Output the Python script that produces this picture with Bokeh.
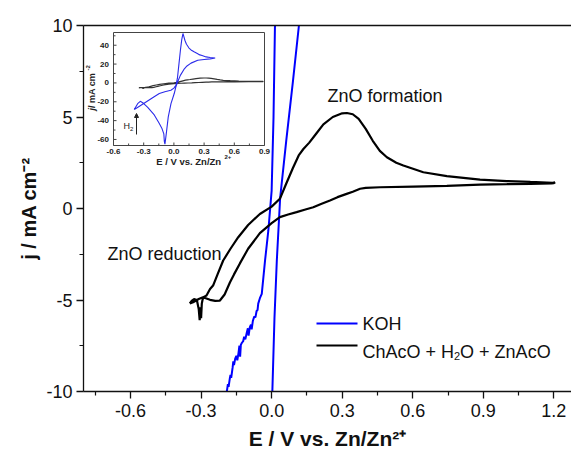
import numpy as np
from bokeh.plotting import figure
from bokeh.models import Range1d, LinearAxis, Label, Arrow, NormalHead, FixedTicker, ColumnDataSource
from bokeh.core.properties import value
from bokeh.embed import file_html
from bokeh.resources import INLINE

# ---------------- data ----------------
# KOH (main panel, zoomed section of the CV)
koh_x = [-0.196, -0.190, -0.186, -0.183, -0.178, -0.175, -0.172, -0.166, -0.163, -0.160,
         -0.155, -0.150, -0.146, -0.141, -0.137, -0.134, -0.131, -0.127, -0.121, -0.117,
         -0.112, -0.106, -0.101, -0.098, -0.093, -0.088, -0.085, -0.080, -0.074, -0.069,
         -0.064, -0.060, -0.057, -0.050, -0.042, -0.028, -0.014, 0.000, 0.008, 0.014, 0.017,
         0.120, 0.116, 0.091, 0.062, 0.036, 0.022, 0.012, 0.003, 0.002]
koh_y = [-10.3, -9.95, -9.6, -9.75, -9.3, -9.1, -9.25, -8.7, -8.35, -8.55,
         -8.2, -8.05, -8.3, -7.9, -7.5, -8.1, -7.45, -7.35, -7.25, -7.0,
         -7.15, -6.8, -6.55, -6.95, -6.5, -6.35, -6.6, -6.15, -5.9, -5.95,
         -5.6, -5.55, -5.2, -4.9, -4.66, -2.84, -1.2, 0.98, 5.0, 9.9, 10.6,
         10.4, 10.0, 7.0, 3.7, 0.55, -2.84, -6.0, -10.0, -10.3]

# ChAcO + H2O + ZnAcO
chaco_x = [-0.348, -0.340, -0.330, -0.318, -0.310, -0.306, -0.303, -0.300, -0.297, -0.294,
           -0.290, -0.284, -0.277, -0.262, -0.249, -0.230, -0.206, -0.175, -0.142, -0.100,
           -0.050, 0.000, 0.035, 0.060, 0.090, 0.115, 0.135, 0.160, 0.190, 0.220,
           0.260, 0.300, 0.320, 0.345, 0.370, 0.400, 0.430, 0.460, 0.490, 0.530,
           0.560, 0.645, 0.745, 0.886, 1.000, 1.100, 1.170, 1.195, 1.205, 1.200,
           1.190, 1.100, 1.000, 0.886, 0.745, 0.603, 0.461, 0.400, 0.376, 0.345,
           0.319, 0.280, 0.248, 0.210, 0.177, 0.140, 0.106, 0.070, 0.035, 0.000,
           -0.050, -0.100, -0.135, -0.160, -0.177, -0.200, -0.220, -0.240, -0.262, -0.292,
           -0.310, -0.334, -0.348]
chaco_y = [-5.19, -5.05, -4.95, -5.00, -5.50, -6.10, -5.40, -6.00, -5.20, -5.00,
           -4.85, -4.80, -4.75, -4.40, -4.21, -3.60, -2.84, -2.20, -1.57, -0.90,
           -0.30, 0.10, 0.53, 1.30, 2.20, 2.90, 3.25, 3.60, 4.10, 4.60,
           5.00, 5.20, 5.22, 5.15, 4.90, 4.35, 3.70, 3.15, 2.80, 2.50,
           2.35, 1.98, 1.77, 1.58, 1.50, 1.45, 1.42, 1.40, 1.43, 1.38,
           1.37, 1.35, 1.33, 1.31, 1.24, 1.20, 1.16, 1.13, 1.08, 0.92,
           0.80, 0.62, 0.44, 0.25, 0.07, -0.07, -0.20, -0.33, -0.47, -0.80,
           -1.35, -2.20, -3.00, -3.60, -4.03, -4.70, -5.03, -5.05, -4.99, -4.85,
           -4.95, -5.12, -5.19]

# KOH full CV (inset)
inset_koh_x = [-0.394, -0.350, -0.300, -0.250, -0.200, -0.145, -0.090, -0.030, 0.000, 0.020,
               0.035, 0.050, 0.065, 0.078, 0.090, 0.097, 0.110, 0.125, 0.150, 0.170,
               0.200, 0.237, 0.250, 0.280, 0.320, 0.360, 0.410,
               0.360, 0.300, 0.237, 0.170, 0.130, 0.104, 0.064, 0.037, 0.020,
               0.004, -0.029, -0.056, -0.076, -0.089, -0.095, -0.100, -0.120, -0.145, -0.195,
               -0.260, -0.310, -0.334, -0.360, -0.394]
inset_koh_y = [-28.3, -25.3, -21.9, -18.4, -14.9, -11.3, -9.3, -7.8, -5.5, -2.5,
               5.0, 20.0, 35.0, 46.0, 52.4, 50.0, 45.0, 41.0, 37.0, 35.0,
               33.0, 31.0, 30.0, 29.0, 27.6, 27.0, 26.5,
               25.5, 24.8, 24.0, 21.0, 18.0, 15.0, 8.0, 1.0, -4.0,
               -11.0, -22.0, -36.0, -54.0, -65.0, -62.0, -54.0, -48.0, -43.0, -34.0,
               -26.0, -21.0, -19.5, -22.0, -28.3]

x_ticks = [-0.6, -0.3, 0.0, 0.3, 0.6, 0.9, 1.2]
x_tick_labels = ["-0.6", "-0.3", "0.0", "0.3", "0.6", "0.9", "1.2"]
y_ticks = [-10, -5, 0, 5, 10]
y_tick_labels = ["-10", "-5", "0", "5", "10"]
inset_x_ticks = [-0.6, -0.3, 0.0, 0.3, 0.6, 0.9]
inset_x_tick_labels = ["-0.6", "-0.3", "0.0", "0.3", "0.6", "0.9"]
inset_y_ticks = [-60, -40, -20, 0, 20, 40]
inset_y_tick_labels = ["-60", "-40", "-20", "0", "20", "40"]

x_title = "E / V vs. Zn/Zn\u00b2\u207a"
y_title = "j / mA cm\u207b\u00b2"
series_names = ["KOH", "ChAcO + H", "2", "O + ZnAcO"]
annotations = ["ZnO formation", "ZnO reduction"]

BLUE = "#0000ff"
BLACK = "#000000"
FONT = "Liberation Sans"

# ---------------- geometry ----------------
W, H = 571, 455
FL, FR, FT, FB = 83, 571, 25, 391
X0, X1 = -0.80, 1.275
Y0, Y1 = -10.0, 10.0


def px2x(px):
    return X0 + (px - FL) / (FR - FL) * (X1 - X0)


def py2y(py):
    return Y1 - (py - FT) / (FB - FT) * (Y1 - Y0)


# inset box in pixels and its data limits
IL, IR, IT, IB = 113, 264, 32, 145
IX0, IX1 = -0.6, 0.9
IY0, IY1 = -66.4, 53.5
sx = (IX1 - IX0) / (IR - IL)
sy = (IY1 - IY0) / (IB - IT)

p = figure(width=W, height=H, output_backend="svg", toolbar_location=None,
           x_range=Range1d(X0, X1), y_range=Range1d(Y0, Y1),
           min_border_left=FL, min_border_right=0, min_border_top=FT,
           min_border_bottom=H - FB)
p.extra_x_ranges = {"ix": Range1d(IX0 - (IL - FL) * sx, IX1 + (FR - IR) * sx)}
p.extra_y_ranges = {"iy": Range1d(IY0 - (FB - IB) * sy, IY1 + (IT - FT) * sy)}

p.xgrid.grid_line_color = None
p.ygrid.grid_line_color = None
p.outline_line_color = None
p.background_fill_color = "white"
p.border_fill_color = "white"


def minor_of(t, lo, hi):
    step = t[1] - t[0]
    m = [a + step / 2 for a in [t[0] - step] + t]
    return [v for v in m if lo <= v <= hi]


p.xaxis.ticker = FixedTicker(ticks=x_ticks, minor_ticks=minor_of(x_ticks, X0, X1))
p.yaxis.ticker = FixedTicker(ticks=y_ticks, minor_ticks=minor_of(y_ticks, Y0, Y1))
p.xaxis.major_label_overrides = {t: l for t, l in zip(x_ticks, x_tick_labels)}
p.yaxis.major_label_overrides = {t: l for t, l in zip(y_ticks, y_tick_labels)}
for ax in (p.xaxis, p.yaxis):
    ax.axis_line_width = 1.3
    ax.axis_line_color = "#111111"
    ax.major_tick_line_color = "#111111"
    ax.minor_tick_line_color = "#111111"
    ax.major_tick_line_width = 1.3
    ax.minor_tick_line_width = 1.2
    ax.major_tick_out = 7
    ax.major_tick_in = 0
    ax.minor_tick_out = 4
    ax.minor_tick_in = 0
    ax.major_label_text_font = FONT
    ax.major_label_text_font_size = "18px"
    ax.major_label_text_color = "#111111"
    ax.axis_label_text_font = FONT
    ax.axis_label_text_font_style = "bold"
    ax.axis_label_text_color = "#111111"
p.xaxis.major_label_standoff = 5
p.yaxis.major_label_standoff = 4
p.xaxis.axis_label = x_title
p.yaxis.axis_label = y_title
p.xaxis.axis_label_text_font_size = "21px"
p.yaxis.axis_label_text_font_size = "20px"
p.xaxis.axis_label_standoff = 7
p.yaxis.axis_label_standoff = 3

top = LinearAxis(axis_line_width=1.3, axis_line_color="#111111",
                 major_tick_line_color=None, minor_tick_line_color=None,
                 major_label_text_font_size="0px", major_label_text_alpha=0)
p.add_layout(top, "above")

# ---------------- main curves ----------------
p.line(koh_x, koh_y, line_color=BLUE, line_width=2)
p.line(chaco_x, chaco_y, line_color=BLACK, line_width=2.2)


def lab(px, py, text, size, style="normal", align="left", baseline="middle",
        angle=0.0, color="#111111"):
    p.add_layout(Label(x=px2x(px), y=py2y(py), text=text, text_font=FONT,
                       text_font_size=f"{size}px", text_font_style=style,
                       text_align=align, text_baseline=baseline, angle=angle,
                       text_color=color))


# annotations
lab(327, 95, annotations[0], 18)
lab(107, 253, annotations[1], 18)

# legend
p.segment(x0=[px2x(316)] * 2, x1=[px2x(357)] * 2, y0=[py2y(323), py2y(345)],
          y1=[py2y(323), py2y(345)], line_color=[BLUE, BLACK], line_width=2)
lab(362, 323, series_names[0], 18)
lab(362, 351.5, series_names[1], 18, baseline="alphabetic")
lab(453.5, 355.5, series_names[2], 11, baseline="alphabetic")
lab(459.6, 351.5, series_names[3], 18, baseline="alphabetic")

# ---------------- inset ----------------
R = dict(x_range_name="ix", y_range_name="iy")
p.quad(left=[IX0], right=[IX1], bottom=[IY0], top=[IY1], fill_color="white",
       line_color="#444444", line_width=1, **R)

inset_black = [(x, y) for x, y in zip(chaco_x, chaco_y) if IX0 <= x <= IX1]
p.line([a for a, b in inset_black], [b for a, b in inset_black], line_color="#333333",
       line_width=1.2, **R)
p.line(inset_koh_x, inset_koh_y, line_color="#2b2bea", line_width=1.1, **R)

# inset ticks (inward)
ixm = minor_of(inset_x_ticks, IX0, IX1)
iym = minor_of(inset_y_ticks, IY0, IY1)
p.segment(x0=inset_x_ticks + ixm, x1=inset_x_ticks + ixm,
          y0=[IY0] * (len(inset_x_ticks) + len(ixm)),
          y1=[IY0 + 3 * sy] * len(inset_x_ticks) + [IY0 + 2 * sy] * len(ixm),
          line_color="#444444", line_width=1, **R)
p.segment(x0=[IX0] * (len(inset_y_ticks) + len(iym)),
          x1=[IX0 + 3 * sx] * len(inset_y_ticks) + [IX0 + 2 * sx] * len(iym),
          y0=inset_y_ticks + iym, y1=inset_y_ticks + iym,
          line_color="#444444", line_width=1, **R)

src_xt = ColumnDataSource(dict(x=inset_x_ticks, y=[IY0 - 6 * sy] * len(inset_x_ticks),
                               t=inset_x_tick_labels))
p.text(x="x", y="y", text="t", source=src_xt, text_font=value(FONT),
       text_font_size="8px", text_font_style="bold", text_align="center",
       text_baseline="middle", text_color="#222222", **R)
src_yt = ColumnDataSource(dict(x=[IX0 - 4.5 * sx] * len(inset_y_ticks), y=inset_y_ticks,
                               t=inset_y_tick_labels))
p.text(x="x", y="y", text="t", source=src_yt, text_font=value(FONT),
       text_font_size="8px", text_font_style="bold", text_align="right",
       text_baseline="middle", text_color="#222222", **R)

# inset axis titles
lab(155.7, 161, "E / V vs. Zn/Zn", 9.5, style="bold", baseline="alphabetic", color="#222222")
lab(224, 156.5, "2+", 6, style="bold", baseline="alphabetic", color="#222222")
lab(91, 110, "j", 9, style="bold italic", baseline="alphabetic", angle=np.pi / 2, color="#222222")
lab(91, 107.5, " / mA cm", 9, style="bold", baseline="alphabetic", angle=np.pi / 2, color="#222222")
lab(87.5, 70, "-2", 6, style="bold", baseline="alphabetic", angle=np.pi / 2, color="#222222")

# H2 arrow
ax_x = IX0 + (136 - IL) * sx
p.add_layout(Arrow(end=NormalHead(size=4, fill_color="#222222", line_color="#222222"),
                   x_start=ax_x, x_end=ax_x,
                   y_start=IY1 - (134 - IT) * sy, y_end=IY1 - (113 - IT) * sy,
                   line_color="#222222", line_width=1, **R))
lab(123, 125, "H", 9, baseline="alphabetic", color="#222222")
lab(129.5, 128, "2", 6, baseline="alphabetic", color="#222222")

open("out.html", "w").write(file_html(p, INLINE))
